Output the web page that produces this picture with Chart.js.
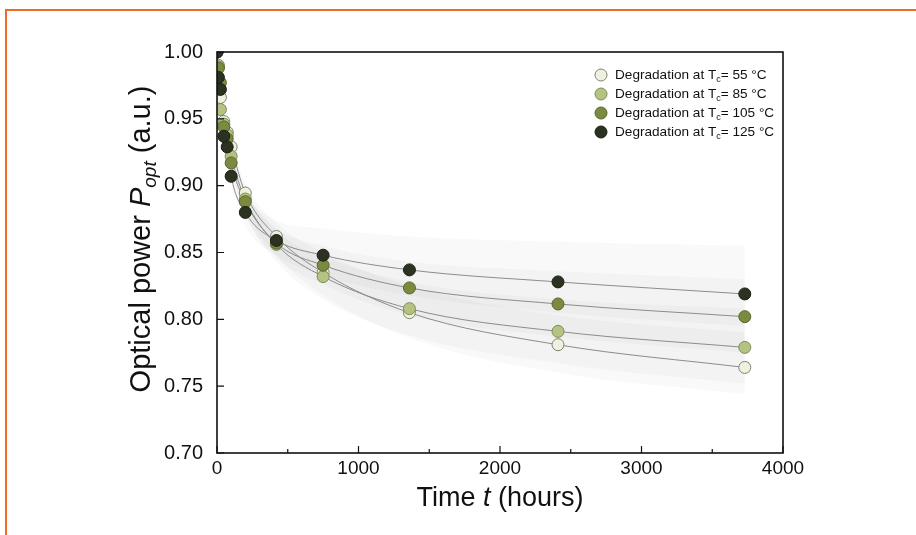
<!DOCTYPE html>
<html>
<head>
<meta charset="utf-8">
<title>Optical power degradation</title>
<script src="https://cdn.jsdelivr.net/npm/chart.js@4.4.1/dist/chart.umd.min.js"></script>
<style>
  html, body { margin: 0; padding: 0; background: #ffffff; }
  #wrap { position: relative; width: 916px; height: 535px; }
  canvas { display: block; }
</style>
</head>
<body>
<div id="wrap"><canvas id="c" width="916" height="535"></canvas></div>
<script>
// Aging time (hours) at which optical power was measured
const times = [0, 10, 24, 48, 72, 100, 200, 420, 750, 1360, 2410, 3730];

// Normalised optical power for each case temperature
const power55  = [1.000, 0.990, 0.966, 0.948, 0.940, 0.929, 0.8945, 0.862, 0.835, 0.805, 0.781, 0.764];
const power85  = [1.000, 0.989, 0.957, 0.946, 0.938, 0.922, 0.890, 0.856, 0.832, 0.808, 0.791, 0.779];
const power105 = [1.000, 0.988, 0.977, 0.944, 0.935, 0.917, 0.888, 0.857, 0.8405, 0.8235, 0.8115, 0.802];
const power125 = [1.000, 0.981, 0.972, 0.937, 0.929, 0.907, 0.880, 0.859, 0.848, 0.837, 0.828, 0.819];

// Confidence bands of the fitted degradation curves
const bandTimes = [100, 200, 420, 750, 1360, 2410, 3730];
const band55Upper  = [0.933, 0.902, 0.872, 0.850, 0.825, 0.803, 0.790];
const band55Lower  = [0.922, 0.884, 0.848, 0.818, 0.786, 0.760, 0.744];
const band85Upper  = [0.928, 0.898, 0.866, 0.847, 0.828, 0.815, 0.808];
const band85Lower  = [0.915, 0.880, 0.843, 0.815, 0.788, 0.767, 0.752];
const band105Upper = [0.922, 0.895, 0.868, 0.855, 0.843, 0.836, 0.830];
const band105Lower = [0.910, 0.878, 0.846, 0.826, 0.803, 0.787, 0.775];
const band125Upper = [0.915, 0.893, 0.874, 0.868, 0.862, 0.858, 0.855];
const band125Lower = [0.900, 0.870, 0.848, 0.833, 0.818, 0.805, 0.795];

// Axis ticks
const xTicks = [0, 1000, 2000, 3000, 4000];
const xMinorTicks = [500, 1500, 2500, 3500];
const yTicks = [0.70, 0.75, 0.80, 0.85, 0.90, 0.95, 1.00];

// Legend entries: temperature label and marker colours
const seriesTemps = ['55', '85', '105', '125'];
const seriesFill   = ['#eef1e0', '#b4c382', '#7a8b40', '#2c3222'];
const seriesBorder = ['#7d8770', '#7e8e55', '#59662e', '#1c2016'];

const FONT = '"Liberation Sans", Arial, Helvetica, sans-serif';

const toXY = (xs, ys) => xs.map((x, i) => ({ x: x, y: ys[i] }));

const seriesData = [power55, power85, power105, power125];
const bands = [
  [band55Upper, band55Lower],
  [band85Upper, band85Lower],
  [band105Upper, band105Lower],
  [band125Upper, band125Lower]
];

const datasets = [];

// shaded bands (drawn underneath everything)
bands.forEach((b) => {
  datasets.push({
    data: toXY(bandTimes, b[0]), showLine: true, pointRadius: 0, borderWidth: 0,
    borderColor: 'rgba(0,0,0,0)', fill: false, cubicInterpolationMode: 'monotone', order: 30
  });
  datasets.push({
    data: toXY(bandTimes, b[1]), showLine: true, pointRadius: 0, borderWidth: 0,
    borderColor: 'rgba(0,0,0,0)', backgroundColor: 'rgba(90,90,90,0.035)',
    fill: '-1', cubicInterpolationMode: 'monotone', order: 30
  });
});

// fitted curves
seriesData.forEach((s) => {
  datasets.push({
    data: toXY(times, s), showLine: true, pointRadius: 0, borderWidth: 1,
    borderColor: '#8c8c8c', fill: false, cubicInterpolationMode: 'monotone', order: 20
  });
});

// measured points (125 °C on top)
seriesData.forEach((s, i) => {
  datasets.push({
    data: toXY(times, s), showLine: false, pointRadius: 6, pointBorderWidth: 1,
    pointBackgroundColor: seriesFill[i], pointBorderColor: seriesBorder[i],
    order: 10 - i
  });
});

const decorPlugin = {
  id: 'decor',
  beforeDraw(chart) {
    const ctx = chart.ctx;
    ctx.save();
    ctx.fillStyle = '#ffffff';
    ctx.fillRect(0, 0, chart.width, chart.height);
    // page frame
    ctx.strokeStyle = '#f26a22';
    ctx.lineWidth = 2;
    ctx.beginPath();
    ctx.moveTo(6, chart.height);
    ctx.lineTo(6, 10);
    ctx.lineTo(chart.width, 10);
    ctx.stroke();
    ctx.restore();
  },
  afterDraw(chart) {
    const ctx = chart.ctx;
    const a = chart.chartArea;
    const xs = chart.scales.x, ys = chart.scales.y;
    ctx.save();

    // plot frame
    ctx.strokeStyle = '#111';
    ctx.lineWidth = 1.6;
    ctx.strokeRect(a.left, a.top, a.right - a.left, a.bottom - a.top);

    // inward ticks
    ctx.lineWidth = 1.2;
    ctx.beginPath();
    xTicks.forEach(v => {
      const px = xs.getPixelForValue(v);
      ctx.moveTo(px, a.bottom); ctx.lineTo(px, a.bottom - 7);
    });
    xMinorTicks.forEach(v => {
      const px = xs.getPixelForValue(v);
      ctx.moveTo(px, a.bottom); ctx.lineTo(px, a.bottom - 4);
    });
    yTicks.forEach(v => {
      const py = ys.getPixelForValue(v);
      ctx.moveTo(a.left, py); ctx.lineTo(a.left + 7, py);
    });
    ctx.stroke();

    // legend
    const lx = 601, ly0 = 75, step = 19;
    seriesTemps.forEach((t, i) => {
      const y = ly0 + i * step;
      ctx.beginPath();
      ctx.arc(lx, y, 6, 0, Math.PI * 2);
      ctx.fillStyle = seriesFill[i];
      ctx.fill();
      ctx.lineWidth = 1;
      ctx.strokeStyle = seriesBorder[i];
      ctx.stroke();
      ctx.fillStyle = '#111';
      ctx.textBaseline = 'middle';
      ctx.textAlign = 'left';
      ctx.font = '13.6px ' + FONT;
      let x = lx + 14;
      const t1 = 'Degradation at T';
      ctx.fillText(t1, x, y);
      x += ctx.measureText(t1).width;
      ctx.font = '9px ' + FONT;
      ctx.fillText('c', x, y + 5);
      x += ctx.measureText('c').width;
      ctx.font = '13.6px ' + FONT;
      ctx.fillText('= ' + t + ' °C', x, y);
    });

    // x-axis title
    ctx.fillStyle = '#111';
    ctx.textBaseline = 'alphabetic';
    ctx.textAlign = 'left';
    const xParts = [['Time ', ''], ['t', 'italic '], [' (hours)', '']];
    let total = 0;
    xParts.forEach(p => { ctx.font = p[1] + '27px ' + FONT; total += ctx.measureText(p[0]).width; });
    let cx = (a.left + a.right) / 2 - total / 2;
    xParts.forEach(p => {
      ctx.font = p[1] + '27px ' + FONT;
      ctx.fillText(p[0], cx, 506);
      cx += ctx.measureText(p[0]).width;
    });

    // y-axis title (rotated)
    ctx.translate(150, 239);
    ctx.rotate(-Math.PI / 2);
    const yParts = [['Optical power ', '', 29, 0], ['P', 'italic ', 29, 0], ['opt', 'italic ', 19, 6], [' (a.u.)', '', 29, 0]];
    total = 0;
    yParts.forEach(p => { ctx.font = p[1] + p[2] + 'px ' + FONT; total += ctx.measureText(p[0]).width; });
    cx = -total / 2;
    yParts.forEach(p => {
      ctx.font = p[1] + p[2] + 'px ' + FONT;
      ctx.fillText(p[0], cx, p[3]);
      cx += ctx.measureText(p[0]).width;
    });

    ctx.restore();
  }
};

new Chart(document.getElementById('c'), {
  type: 'scatter',
  data: { datasets: datasets },
  options: {
    responsive: false,
    animation: false,
    layout: { padding: { left: 157, top: 52, right: 133, bottom: 42 } },
    plugins: { legend: { display: false }, tooltip: { enabled: false } },
    scales: {
      x: {
        type: 'linear', min: 0, max: 4000,
        afterBuildTicks: s => { s.ticks = xTicks.map(v => ({ value: v })); },
        afterFit: s => { s.height = 40; },
        grid: { display: false, drawTicks: false },
        border: { display: false },
        ticks: { font: { size: 19, family: FONT }, color: '#111', padding: 4, maxRotation: 0,
                 callback: v => String(v) }
      },
      y: {
        type: 'linear', min: 0.70, max: 1.00,
        afterBuildTicks: s => { s.ticks = yTicks.map(v => ({ value: v })); },
        afterFit: s => { s.width = 60; },
        grid: { display: false, drawTicks: false },
        border: { display: false },
        ticks: { font: { size: 20, family: FONT }, color: '#111', padding: 14,
                 callback: v => Number(v).toFixed(2) }
      }
    }
  },
  plugins: [decorPlugin]
});
</script>
</body>
</html>
